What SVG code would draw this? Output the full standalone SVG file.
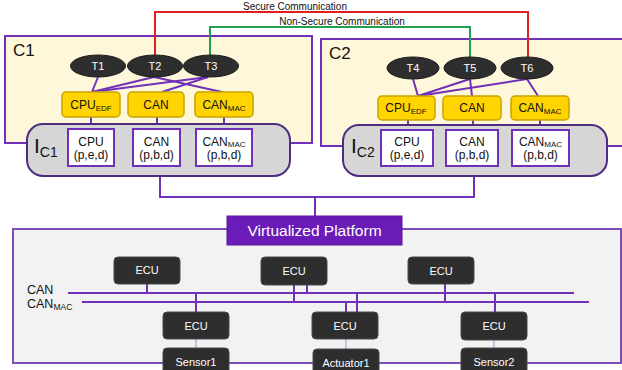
<svg xmlns="http://www.w3.org/2000/svg" width="622" height="370" viewBox="0 0 622 370">
<style>
text{font-family:"Liberation Sans",Arial,sans-serif}
.cbox{fill:#FFF7D9;stroke:#7030B8;stroke-width:2}
.ibox{fill:#D6D6D6;stroke:#4E2C80;stroke-width:2}
.task{fill:#2E2E2E;stroke:#1E1E1E;stroke-width:1}
.tt{fill:#fff;font-size:11px;text-anchor:middle}
.yel{fill:#FFD400;stroke:#C9A400;stroke-width:1.5}
.yt{fill:#111;font-size:12px;text-anchor:middle}
.wht{fill:#fff;stroke:#7030B8;stroke-width:2}
.wt{fill:#111;font-size:12px;text-anchor:middle}
.ecu{fill:#2E2E2E;stroke:#4A4A4A;stroke-width:1}
.et{fill:#fff;font-size:11px;text-anchor:middle}
.pl{stroke:#7030B8;stroke-width:2;fill:none}
.thin{stroke:#A58AD6;stroke-width:1;fill:none}
.lbl{fill:#111;font-size:10px;text-anchor:middle}
</style>

<!-- Virtualized platform region -->
<g id="platform">
<rect x="13" y="229" width="608" height="134" fill="#F2F2F2" stroke="#7A4FB8" stroke-width="2"/>
</g>

<!-- Containers -->
<g id="C1">
<rect class="cbox" x="5" y="36" width="307" height="107"/>
<text x="13" y="56" font-size="17" fill="#111">C1</text>
</g>
<g id="C2">
<rect class="cbox" x="321" y="39" width="312" height="107"/>
<text x="329" y="59" font-size="17" fill="#111">C2</text>
</g>

<!-- Connectors -->
<g id="connectors">
<!-- communication lines -->
<polyline points="155,56 155,12 528,12 528,58" fill="none" stroke="#E02020" stroke-width="2"/>
<polyline points="210,56 210,27 470,27 470,58" fill="none" stroke="#20A050" stroke-width="2"/>
<text class="lbl" x="295" y="9.5">Secure Communication</text>
<text class="lbl" x="342" y="24.5">Non-Secure Communication</text>
<!-- C1 task to resource -->
<line class="pl" x1="98" y1="77" x2="92" y2="92"/>
<line class="pl" x1="154" y1="77" x2="92" y2="92"/>
<line class="pl" x1="154" y1="77" x2="222" y2="92"/>
<line class="pl" x1="208" y1="77" x2="92" y2="92"/>
<line class="pl" x1="208" y1="77" x2="162" y2="92"/>
<!-- C2 task to resource -->
<line class="pl" x1="413" y1="79" x2="418" y2="96"/>
<line class="pl" x1="470" y1="79" x2="418" y2="96"/>
<line class="pl" x1="470" y1="79" x2="472" y2="96"/>
<line class="pl" x1="527" y1="79" x2="418" y2="96"/>
<line class="pl" x1="527" y1="79" x2="538" y2="96"/>
<!-- yellow to white -->
<line class="pl" x1="91" y1="117" x2="91" y2="129"/>
<line class="pl" x1="157" y1="117" x2="157" y2="129"/>
<line class="pl" x1="224" y1="117" x2="224" y2="129"/>
<line class="pl" x1="408" y1="120" x2="408" y2="130"/>
<line class="pl" x1="473" y1="120" x2="473" y2="130"/>
<line class="pl" x1="540" y1="120" x2="540" y2="130"/>
<!-- interfaces to platform -->
<polyline class="pl" points="160,176 160,197 474,197 474,176"/>
<line class="pl" x1="315" y1="197" x2="315" y2="216"/>
<!-- buses -->
<line class="pl" x1="68" y1="293" x2="574" y2="293"/>
<line class="pl" x1="82" y1="302" x2="589" y2="302"/>
<line class="pl" x1="147" y1="284" x2="147" y2="293"/>
<line class="pl" x1="196" y1="293" x2="196" y2="312"/>
<line class="pl" x1="294" y1="285" x2="294" y2="303"/>
<line class="pl" x1="307" y1="285" x2="307" y2="293"/>
<line class="pl" x1="346" y1="302" x2="346" y2="312"/>
<line class="pl" x1="357" y1="293" x2="357" y2="312"/>
<line class="pl" x1="445" y1="284" x2="445" y2="303"/>
<line class="pl" x1="495" y1="293" x2="495" y2="312"/>
<line class="thin" x1="196" y1="339" x2="196" y2="348"/>
<line class="thin" x1="346" y1="339" x2="346" y2="349"/>
<line class="thin" x1="494" y1="340" x2="494" y2="348"/>
</g>

<!-- Interfaces -->
<g id="IC1">
<rect class="ibox" x="27" y="124" width="263" height="52" rx="16"/>
<text x="34" y="153" font-size="21" fill="#111">I<tspan font-size="14" dy="4">C1</tspan></text>
</g>
<g id="IC2">
<rect class="ibox" x="343" y="125" width="264" height="51" rx="16"/>
<text x="351" y="153" font-size="21" fill="#111">I<tspan font-size="14" dy="4">C2</tspan></text>
</g>

<!-- Tasks -->
<g id="T1"><ellipse class="task" cx="98" cy="66" rx="27.5" ry="11"/><text class="tt" x="98" y="70">T1</text></g>
<g id="T2"><ellipse class="task" cx="155" cy="66" rx="27.5" ry="11"/><text class="tt" x="155" y="70">T2</text></g>
<g id="T3"><ellipse class="task" cx="211" cy="66" rx="27.5" ry="11"/><text class="tt" x="211" y="70">T3</text></g>
<g id="T4"><ellipse class="task" cx="413" cy="68" rx="26" ry="11"/><text class="tt" x="413" y="72">T4</text></g>
<g id="T5"><ellipse class="task" cx="470" cy="68" rx="26" ry="11"/><text class="tt" x="470" y="72">T5</text></g>
<g id="T6"><ellipse class="task" cx="527" cy="68" rx="26" ry="11"/><text class="tt" x="527" y="72">T6</text></g>

<!-- C1 resources -->
<g id="C1_CPU_EDF"><rect class="yel" x="62" y="92" width="58" height="25" rx="4"/><text class="yt" x="91" y="109">CPU<tspan font-size="8" dy="2">EDF</tspan></text></g>
<g id="C1_CAN"><rect class="yel" x="128" y="92" width="56" height="25" rx="4"/><text class="yt" x="156" y="109">CAN</text></g>
<g id="C1_CAN_MAC"><rect class="yel" x="195" y="92" width="58" height="25" rx="4"/><text class="yt" x="224" y="109">CAN<tspan font-size="8" dy="2">MAC</tspan></text></g>
<!-- C2 resources -->
<g id="C2_CPU_EDF"><rect class="yel" x="378" y="96" width="57" height="24" rx="4"/><text class="yt" x="406" y="112">CPU<tspan font-size="8" dy="2">EDF</tspan></text></g>
<g id="C2_CAN"><rect class="yel" x="443" y="96" width="58" height="24" rx="4"/><text class="yt" x="472" y="112">CAN</text></g>
<g id="C2_CAN_MAC"><rect class="yel" x="511" y="96" width="58" height="24" rx="4"/><text class="yt" x="540" y="112">CAN<tspan font-size="8" dy="2">MAC</tspan></text></g>

<!-- Interface resources -->
<g id="I1_CPU"><rect class="wht" x="68" y="129" width="46" height="37"/><text class="wt" x="91" y="146">CPU</text><text class="wt" x="91" y="159">(p,e,d)</text></g>
<g id="I1_CAN"><rect class="wht" x="133" y="129" width="47" height="37"/><text class="wt" x="156.5" y="146">CAN</text><text class="wt" x="156.5" y="159">(p,b,d)</text></g>
<g id="I1_CAN_MAC"><rect class="wht" x="196" y="129" width="56" height="37"/><text class="wt" x="224" y="146">CAN<tspan font-size="8" dy="1">MAC</tspan></text><text class="wt" x="224" y="159">(p,b,d)</text></g>
<g id="I2_CPU"><rect class="wht" x="381" y="130" width="52" height="36"/><text class="wt" x="407" y="146">CPU</text><text class="wt" x="407" y="159">(p,e,d)</text></g>
<g id="I2_CAN"><rect class="wht" x="446" y="130" width="52" height="36"/><text class="wt" x="472" y="146">CAN</text><text class="wt" x="472" y="159">(p,b,d)</text></g>
<g id="I2_CAN_MAC"><rect class="wht" x="512" y="130" width="57" height="36"/><text class="wt" x="540.5" y="146">CAN<tspan font-size="8" dy="1">MAC</tspan></text><text class="wt" x="540.5" y="159">(p,b,d)</text></g>

<!-- Virtualized Platform label -->
<g id="VP">
<rect x="227" y="216" width="175" height="29" fill="#6A1BB8" stroke="#5A1699" stroke-width="1"/>
<text x="314.5" y="236" font-size="15.5" fill="#fff" text-anchor="middle">Virtualized Platform</text>
</g>

<!-- Bus labels -->
<g id="bus_labels">
<text x="27" y="294" font-size="12.5" fill="#111">CAN</text>
<text x="27" y="307.5" font-size="12.5" fill="#111">CAN<tspan font-size="8.5" dy="2">MAC</tspan></text>
</g>

<!-- ECUs -->
<g id="ECU1"><rect class="ecu" x="114" y="257" width="66" height="27" rx="4"/><text class="et" x="147" y="274">ECU</text></g>
<g id="ECU2"><rect class="ecu" x="261" y="257" width="66" height="28" rx="4"/><text class="et" x="294" y="275">ECU</text></g>
<g id="ECU3"><rect class="ecu" x="408" y="257" width="66" height="27" rx="4"/><text class="et" x="441" y="275">ECU</text></g>
<g id="ECU4"><rect class="ecu" x="163" y="312" width="66" height="27" rx="4"/><text class="et" x="196" y="330">ECU</text></g>
<g id="ECU5"><rect class="ecu" x="312" y="312" width="66" height="27" rx="4"/><text class="et" x="345" y="330">ECU</text></g>
<g id="ECU6"><rect class="ecu" x="461" y="312" width="66" height="28" rx="4"/><text class="et" x="494" y="330">ECU</text></g>
<g id="Sensor1"><rect class="ecu" x="163" y="348" width="66" height="30" rx="4"/><text class="et" x="196" y="366">Sensor1</text></g>
<g id="Actuator1"><rect class="ecu" x="313" y="349" width="66" height="30" rx="4"/><text class="et" x="346" y="367">Actuator1</text></g>
<g id="Sensor2"><rect class="ecu" x="461" y="348" width="66" height="30" rx="4"/><text class="et" x="494" y="366">Sensor2</text></g>
</svg>
